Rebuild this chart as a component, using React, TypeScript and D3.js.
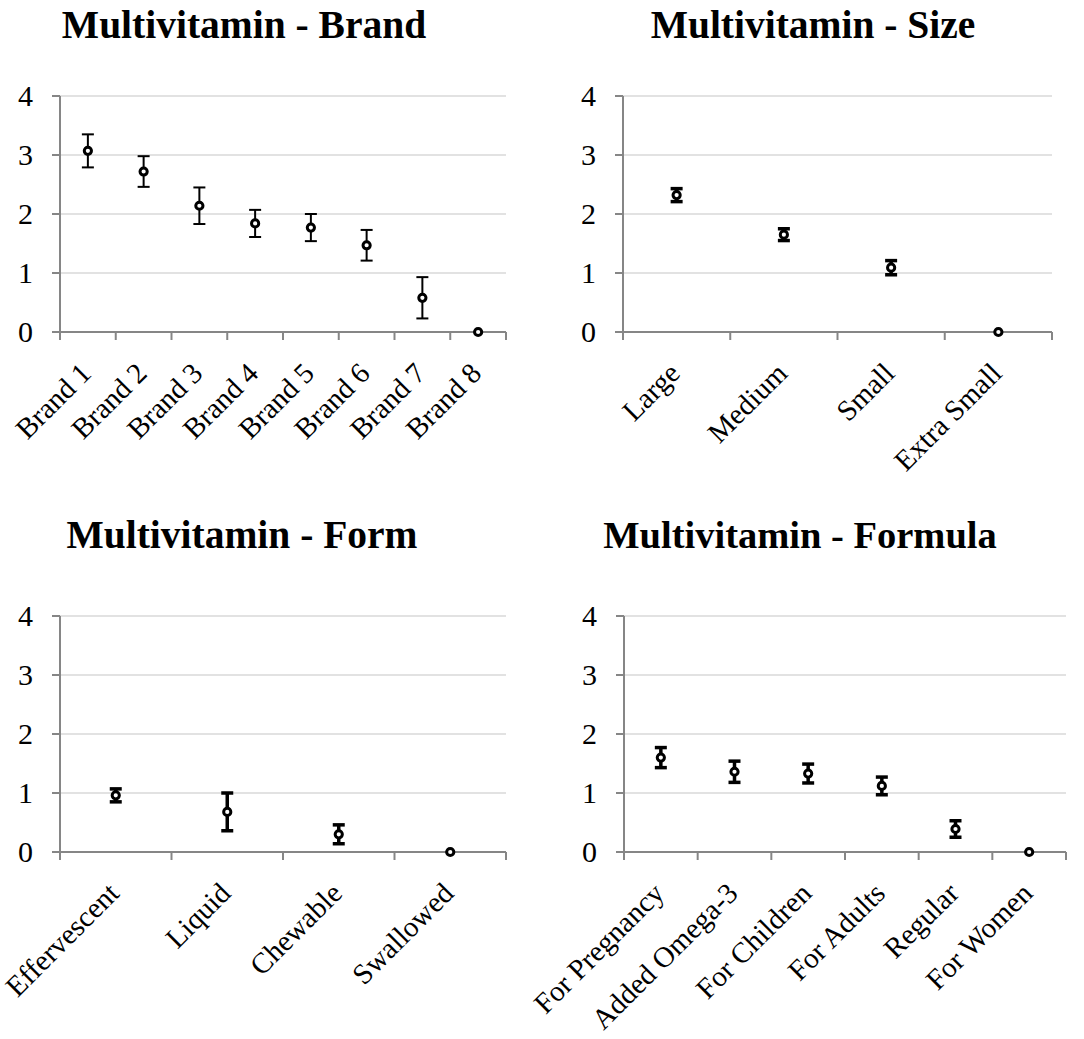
import { useRef, useEffect } from 'react';
import * as d3 from 'd3';

const brandCats = ['Brand 1', 'Brand 2', 'Brand 3', 'Brand 4', 'Brand 5', 'Brand 6', 'Brand 7', 'Brand 8'];
const brandMeans = [3.07, 2.72, 2.14, 1.84, 1.77, 1.47, 0.58, 0];
const brandErr = [0.28, 0.26, 0.31, 0.23, 0.23, 0.26, 0.35, 0];

const sizeCats = ['Large', 'Medium', 'Small', 'Extra Small'];
const sizeMeans = [2.32, 1.65, 1.09, 0];
const sizeErr = [0.11, 0.1, 0.12, 0];

const formCats = ['Effervescent', 'Liquid', 'Chewable', 'Swallowed'];
const formMeans = [0.96, 0.68, 0.3, 0];
const formErr = [0.11, 0.32, 0.16, 0];

const formulaCats = ['For Pregnancy', 'Added Omega-3', 'For Children', 'For Adults', 'Regular', 'For Women'];
const formulaMeans = [1.6, 1.36, 1.33, 1.12, 0.39, 0];
const formulaErr = [0.17, 0.18, 0.16, 0.15, 0.14, 0];

const yTicks = [0, 1, 2, 3, 4];

const W = 1084;
const H = 1039;
const FONT = 'Liberation Serif, Times New Roman, serif';
const AXIS = '#868686';
const GRID = '#d9d9d9';

interface Panel {
  title: string;
  cats: string[];
  means: number[];
  errs: number[];
  x0: number;
  x1: number;
  top: number;
  bottom: number;
  titleX: number;
  titleY: number;
  titleSize: number;
  errWidth: number;
}

const panels: Panel[] = [
  { title: 'Multivitamin - Brand', cats: brandCats, means: brandMeans, errs: brandErr,
    x0: 60, x1: 506, top: 96, bottom: 332, titleX: 244, titleY: 38, titleSize: 39.5, errWidth: 2 },
  { title: 'Multivitamin - Size', cats: sizeCats, means: sizeMeans, errs: sizeErr,
    x0: 623, x1: 1052, top: 96, bottom: 332, titleX: 813, titleY: 38, titleSize: 39.5, errWidth: 3.5 },
  { title: 'Multivitamin - Form', cats: formCats, means: formMeans, errs: formErr,
    x0: 60, x1: 506, top: 616, bottom: 852, titleX: 242, titleY: 548, titleSize: 39.5, errWidth: 3.5 },
  { title: 'Multivitamin - Formula', cats: formulaCats, means: formulaMeans, errs: formulaErr,
    x0: 624, x1: 1066, top: 616, bottom: 852, titleX: 800, titleY: 548, titleSize: 38.5, errWidth: 3.5 },
];

function drawPanel(svg: d3.Selection<SVGSVGElement, unknown, null, undefined>, p: Panel) {
  const g = svg.append('g');

  const x = d3.scaleBand<string>().domain(p.cats).range([p.x0, p.x1]);
  const y = d3.scaleLinear().domain([0, 4]).range([p.bottom, p.top]);

  g.append('text')
    .attr('x', p.titleX)
    .attr('y', p.titleY)
    .attr('text-anchor', 'middle')
    .attr('font-family', FONT)
    .attr('font-size', `${p.titleSize}px`)
    .attr('font-weight', '700')
    .attr('fill', '#000')
    .text(p.title);

  // gridlines
  yTicks.filter((t) => t > 0).forEach((t) => {
    g.append('line')
      .attr('x1', p.x0).attr('x2', p.x1)
      .attr('y1', y(t)).attr('y2', y(t))
      .attr('stroke', GRID).attr('stroke-width', 1.5);
  });

  // y axis
  g.append('line')
    .attr('x1', p.x0).attr('x2', p.x0)
    .attr('y1', y(4)).attr('y2', y(0))
    .attr('stroke', AXIS).attr('stroke-width', 2);
  yTicks.forEach((t) => {
    g.append('line')
      .attr('x1', p.x0 - 8).attr('x2', p.x0)
      .attr('y1', y(t)).attr('y2', y(t))
      .attr('stroke', AXIS).attr('stroke-width', 2);
    g.append('text')
      .attr('x', p.x0 - 27)
      .attr('y', y(t))
      .attr('dy', '0.34em')
      .attr('text-anchor', 'end')
      .attr('font-family', FONT)
      .attr('font-size', '30px')
      .attr('fill', '#000')
      .text(t);
  });

  // x axis
  g.append('line')
    .attr('x1', p.x0).attr('x2', p.x1)
    .attr('y1', y(0)).attr('y2', y(0))
    .attr('stroke', AXIS).attr('stroke-width', 2);
  const edges = p.cats.map((c) => x(c) as number).concat([p.x1]);
  edges.forEach((ex) => {
    g.append('line')
      .attr('x1', ex).attr('x2', ex)
      .attr('y1', y(0)).attr('y2', y(0) + 8)
      .attr('stroke', AXIS).attr('stroke-width', 2);
  });

  p.cats.forEach((c) => {
    const cx = (x(c) as number) + x.bandwidth() / 2;
    g.append('text')
      .attr('transform', `translate(${cx + 5},${y(0) + 43}) rotate(-45)`)
      .attr('text-anchor', 'end')
      .attr('font-family', FONT)
      .attr('font-size', '29px')
      .attr('fill', '#000')
      .text(c);
  });

  // error bars + markers
  p.cats.forEach((c, i) => {
    const cx = (x(c) as number) + x.bandwidth() / 2;
    const m = p.means[i];
    const e = p.errs[i];
    if (e > 0) {
      const hi = y(m + e);
      const lo = y(m - e);
      g.append('line')
        .attr('x1', cx).attr('x2', cx)
        .attr('y1', hi).attr('y2', lo)
        .attr('stroke', '#000').attr('stroke-width', p.errWidth);
      [hi, lo].forEach((yy) => {
        g.append('line')
          .attr('x1', cx - 6).attr('x2', cx + 6)
          .attr('y1', yy).attr('y2', yy)
          .attr('stroke', '#000').attr('stroke-width', p.errWidth);
      });
    }
    g.append('circle')
      .attr('cx', cx)
      .attr('cy', y(m))
      .attr('r', 3.6)
      .attr('fill', '#fff')
      .attr('stroke', '#000')
      .attr('stroke-width', 3);
  });
}

export default function App() {
  const svgRef = useRef<SVGSVGElement>(null);

  useEffect(() => {
    if (!svgRef.current) return;
    const svg = d3.select(svgRef.current);
    svg.selectAll('*').remove();
    panels.forEach((p) => drawPanel(svg, p));
  }, []);

  return (
    <svg
      ref={svgRef}
      width={W}
      height={H}
      style={{ position: 'absolute', left: 0, top: 0, background: '#fff' }}
    />
  );
}
